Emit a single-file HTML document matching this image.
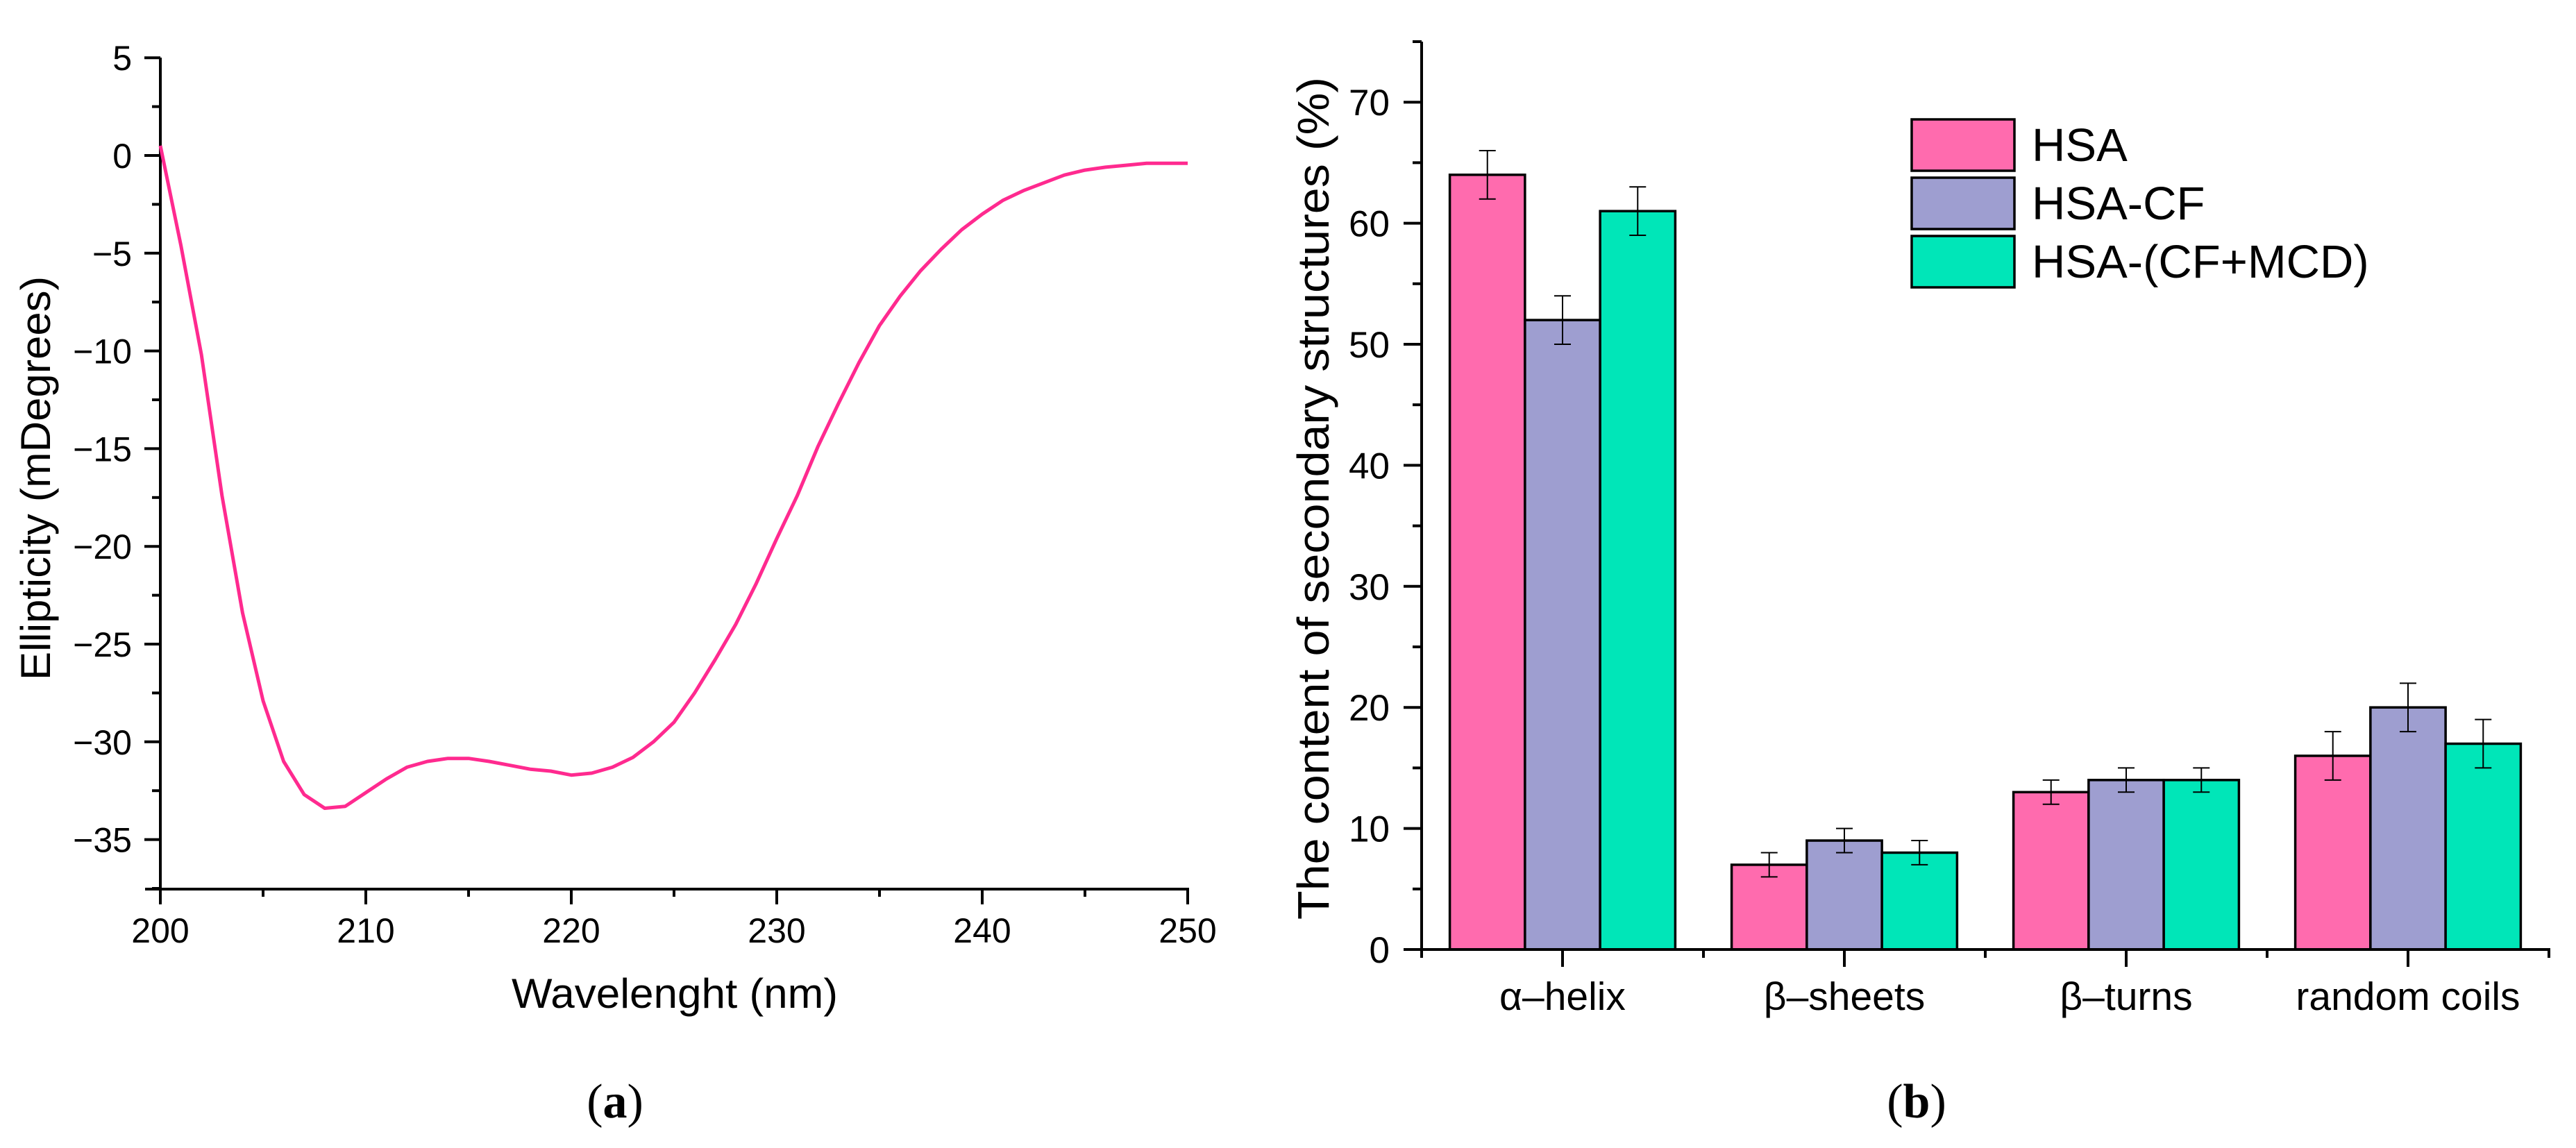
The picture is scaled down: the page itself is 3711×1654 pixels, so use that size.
<!DOCTYPE html>
<html><head><meta charset="utf-8"><style>
html,body{margin:0;padding:0;background:#fff}
svg{display:block}
text{font-family:"Liberation Sans",Arial,sans-serif;fill:#000}
</style></head><body>
<svg id="fig" width="3711" height="1654" viewBox="0 0 3711 1654" xmlns="http://www.w3.org/2000/svg">
<g id="chartA"></g>
<g id="chartB"></g>
<text x="886" y="1610" text-anchor="middle" font-size="70" style="font-family:'Liberation Serif',serif">(<tspan font-weight="bold">a</tspan>)</text>
<text x="2761" y="1610" text-anchor="middle" font-size="70" style="font-family:'Liberation Serif',serif">(<tspan font-weight="bold">b</tspan>)</text>
</svg>
<script>
// ---- Chart A data ----
const wavelengths = [200,201,202,203,204,205,206,207,208,209,210,211,212,213,214,215,216,217,218,219,220,221,222,223,224,225,226,227,228,229,230,231,232,233,234,235,236,237,238,239,240,241,242,243,244,245,246,247,248,249,250];
const ellipticity = [0.5,-4.6,-10.2,-17.4,-23.4,-27.9,-31.0,-32.7,-33.4,-33.3,-32.6,-31.9,-31.3,-31.0,-30.85,-30.85,-31.0,-31.2,-31.4,-31.5,-31.7,-31.6,-31.3,-30.8,-30.0,-29.0,-27.5,-25.8,-24.0,-21.9,-19.6,-17.4,-14.9,-12.7,-10.6,-8.7,-7.2,-5.9,-4.8,-3.8,-3.0,-2.3,-1.8,-1.4,-1.0,-0.75,-0.6,-0.5,-0.4,-0.4,-0.4];
const aXTicks = [200,210,220,230,240,250];
const aYTicks = [5,0,-5,-10,-15,-20,-25,-30,-35];
// ---- Chart B data ----
const categories = ["α–helix","β–sheets","β–turns","random coils"];
const seriesNames = ["HSA","HSA-CF","HSA-(CF+MCD)"];
const hsaValues = [64,7,13,16];
const cfValues = [52,9,14,20];
const mcdValues = [61,8,14,17];
const hsaErrors = [2,1,1,2];
const cfErrors = [2,1,1,2];
const mcdErrors = [2,1,1,2];
const bYTicks = [0,10,20,30,40,50,60,70];

const NS="http://www.w3.org/2000/svg";
function mk(parent,tag,attrs,txt){const e=document.createElementNS(NS,tag);for(const k in attrs)e.setAttribute(k,attrs[k]);if(txt!==undefined)e.textContent=txt;parent.appendChild(e);return e;}

// ===== Chart A =====
(function(){
const g=document.getElementById('chartA');
const X0=231,X1=1711,Ybot=1281,Ytop=83;
const xs=v=>X0+(v-200)/50*(X1-X0);
const ys=v=>224-(v)*(140.8/5);
let l;
l=mk(g,'line',{x1:X0,y1:Ytop,x2:X0,y2:Ybot+22,stroke:'#000','stroke-width':4});


l=mk(g,'line',{x1:X0-22,y1:Ybot,x2:X1+2,y2:Ybot,stroke:'#000','stroke-width':4});


for(let v=5;v>=-37.5;v-=2.5){const y=ys(v);const major=Math.abs(v%5)<1e-9;
 const t=mk(g,'line',{x1:X0-(major?23:12),y1:y,x2:X0,y2:y,stroke:'#000','stroke-width':4});
 
 }
aYTicks.forEach(v=>{const t=mk(g,'text',{x:190,y:ys(v)+18,'text-anchor':'end','font-size':50},v<0?'−'+Math.abs(v):String(v));
 
 });
for(let v=200;v<=250;v+=5){const x=xs(v);const major=v%10===0;
 const t=mk(g,'line',{x1:x,y1:Ybot,x2:x,y2:Ybot+(major?22:11),stroke:'#000','stroke-width':4});
 
 }
aXTicks.forEach(v=>{const t=mk(g,'text',{x:xs(v),y:1358,'text-anchor':'middle','font-size':50},String(v));
 
 });
let d='';wavelengths.forEach((w,i)=>{d+=(i?'L':'M')+xs(w).toFixed(1)+' '+ys(ellipticity[i]).toFixed(1);});
const p=mk(g,'path',{d:d,fill:'none',stroke:'#FF2A8F','stroke-width':5,'stroke-linejoin':'round'});


let t=mk(g,'text',{x:972,y:1452,'text-anchor':'middle','font-size':60,textLength:470,lengthAdjust:'spacingAndGlyphs'},'Wavelenght (nm)');


t=mk(g,'text',{x:0,y:0,'text-anchor':'middle','font-size':60,transform:'translate(72,689) rotate(-90)',textLength:582,lengthAdjust:'spacingAndGlyphs'},'Ellipticity (mDegrees)');


})();

// ===== Chart B =====
(function(){
const g=document.getElementById('chartB');
const X0=2048,X1=3672,Y0=1368,Ytop=60;
const ys=v=>Y0-v*17.44;
const step=(X1-X0)/categories.length;
const xc=i=>X0+step*(i+0.5);
const bw=step*0.8/3;
const colors=['#FF6BAE','#9E9ED0','#00E6B8'];
const vals=[hsaValues,cfValues,mcdValues];
const errs=[hsaErrors,cfErrors,mcdErrors];
let l;
vals.forEach((arr,s)=>{arr.forEach((v,i)=>{
 const x=xc(i)-1.5*bw+s*bw;
 const r=mk(g,'rect',{x:x,y:ys(v),width:bw,height:Y0-ys(v),fill:colors[s],stroke:'#000','stroke-width':3.5});
 
 
 const cx=x+bw/2,e=errs[s][i];
 const eb=mk(g,'path',{d:`M${cx} ${ys(v+e)}V${ys(v-e)}M${cx-12} ${ys(v+e)}H${cx+12}M${cx-12} ${ys(v-e)}H${cx+12}`,stroke:'#000','stroke-width':2,fill:'none'});
 
 
});});
l=mk(g,'line',{x1:X0,y1:Ytop,x2:X0,y2:Y0+12,stroke:'#000','stroke-width':4});


l=mk(g,'line',{x1:X0-26,y1:Y0,x2:X1+2,y2:Y0,stroke:'#000','stroke-width':4});


for(let v=0;v<=75;v+=5){const y=ys(v);const major=v%10===0;
 const t=mk(g,'line',{x1:X0-(major?26:13),y1:y,x2:X0,y2:y,stroke:'#000','stroke-width':4});
 
 }
bYTicks.forEach(v=>{const t=mk(g,'text',{x:2002,y:ys(v)+19,'text-anchor':'end','font-size':53},String(v));
 
 });
for(let i=0;i<=categories.length;i++){const t=mk(g,'line',{x1:X0+step*i,y1:Y0,x2:X0+step*i,y2:Y0+12,stroke:'#000','stroke-width':4});
 
 }
categories.forEach((c,i)=>{const t=mk(g,'line',{x1:xc(i),y1:Y0,x2:xc(i),y2:Y0+25,stroke:'#000','stroke-width':4});
 
 
 const tx=mk(g,'text',{x:xc(i),y:1455,'text-anchor':'middle','font-size':57},c);
 
 });
let t=mk(g,'text',{x:0,y:0,'text-anchor':'middle','font-size':64,transform:'translate(1914,718) rotate(-90)',textLength:1214,lengthAdjust:'spacingAndGlyphs'},'The content of secondary structures (%)');


seriesNames.forEach((n,s)=>{
 const y=172+s*84;
 const r=mk(g,'rect',{x:2754,y:y,width:148,height:74,fill:colors[s],stroke:'#000','stroke-width':3.5});
 
 
 const tx=mk(g,'text',{x:2927,y:y+60,'font-size':67},n);
 
 
});
})();
</script>
</body></html>
